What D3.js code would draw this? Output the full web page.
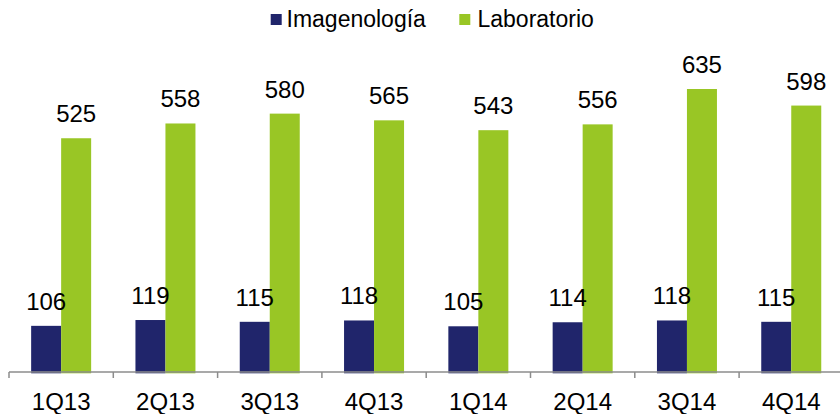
<!DOCTYPE html>
<html><head><meta charset="utf-8">
<script src="https://cdn.jsdelivr.net/npm/d3@7"></script>
<style>body{margin:0;background:#fff}svg{display:block}text{font-family:"Liberation Sans",Arial,sans-serif}</style>
</head><body><svg id="c" width="840" height="414"></svg>
<script>
const categories = ["1Q13","2Q13","3Q13","4Q13","1Q14","2Q14","3Q14","4Q14"];
const imagenologia = [106,119,115,118,105,114,118,115];
const laboratorio = [525,558,580,565,543,556,635,598];
const seriesNames = ["Imagenología","Laboratorio"];
const colors = ["#20256B","#99C625"];

const svg = d3.select("#c");
const x = d3.scaleBand().domain(categories).range([9, 843.4]);
const y = d3.scaleLinear().domain([0,700]).range([373.3, 59.9]);
const barW = 30;

const g = svg.append("g");
categories.forEach((c,i)=>{
  const cx = x(c) + x.bandwidth()/2;
  [imagenologia[i], laboratorio[i]].forEach((v,s)=>{
    const x0 = cx - barW + s*barW;
    g.append("rect").attr("x",x0).attr("y",y(v)).attr("width",barW).attr("height",y(0)-y(v)).attr("fill",colors[s]);
  });
});
categories.forEach((c,i)=>{
  const cx = x(c) + x.bandwidth()/2;
  [imagenologia[i], laboratorio[i]].forEach((v,s)=>{
    const x0 = cx - barW + s*barW;
    g.append("text").attr("x",x0+barW/2).attr("y",y(v)-16).attr("text-anchor","middle")
      .attr("font-size",24).attr("fill","#000").text(v);
  });
});

// axis
const ax = svg.append("g").attr("transform","translate(0,372)");
const axis = d3.axisBottom(x).tickSize(0).tickPadding(0);
ax.call(axis);
ax.select(".domain").remove();
ax.selectAll(".tick line").remove();
ax.selectAll(".tick text").attr("font-size",24).attr("fill","#000").attr("dy","0").attr("y",38)
  .style("font-family","'Liberation Sans',Arial,sans-serif");
ax.append("line").attr("x1",9).attr("x2",843.4).attr("y1",0).attr("y2",0).attr("stroke","#8c8c8c").attr("stroke-width",1.5);
categories.forEach(c=>{
  ax.append("line").attr("x1",x(c)).attr("x2",x(c)).attr("y1",0).attr("y2",6).attr("stroke","#8c8c8c").attr("stroke-width",1.5);
});

// legend
const leg = [{x:270.7, tx:286.5},{x:459.3, tx:477.5}];
seriesNames.forEach((n,i)=>{
  svg.append("rect").attr("x",leg[i].x).attr("y",14).attr("width",11).attr("height",11).attr("fill",colors[i]);
  svg.append("text").attr("x",leg[i].tx).attr("y",27).attr("font-size",23).attr("fill","#000").text(n);
});
</script></body></html>
